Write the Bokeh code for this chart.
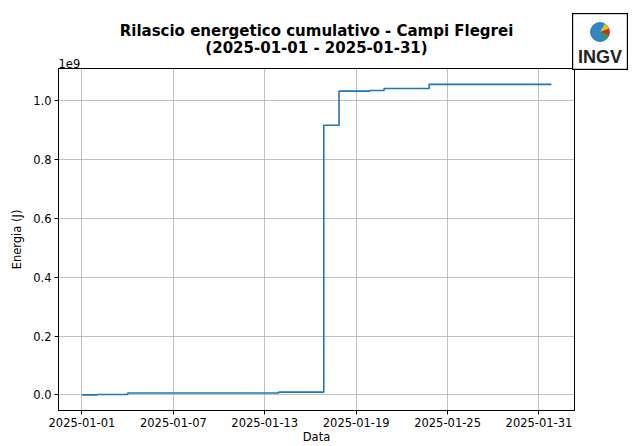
import numpy as np
import pandas as pd
from bokeh.plotting import figure
from bokeh.layouts import row
from bokeh.models import (Range1d, FixedTicker, DatetimeTickFormatter,
                          CustomJSTickFormatter, Title, Div)
from bokeh.embed import file_html
from bokeh.resources import INLINE

# ---- data ----
event_times = ["2025-01-01 00:00", "2025-01-02 00:00", "2025-01-04 00:00",
               "2025-01-13 22:00", "2025-01-16 21:00", "2025-01-17 21:00",
               "2025-01-19 21:00", "2025-01-20 20:00", "2025-01-23 19:00",
               "2025-01-31 19:00"]
cumulative_energy_j = [0.4e6, 1.5e6, 6.5e6, 9.5e6, 915e6, 1031e6,
                       1033e6, 1040e6, 1054e6, 1055e6]
x_tick_labels = ["2025-01-01", "2025-01-07", "2025-01-13",
                 "2025-01-19", "2025-01-25", "2025-01-31"]
y_ticks = [0.0, 0.2e9, 0.4e9, 0.6e9, 0.8e9, 1.0e9]
title_line1 = "Rilascio energetico cumulativo - Campi Flegrei"
title_line2 = "(2025-01-01 - 2025-01-31)"
x_label = "Data"
y_label = "Energia (J)"
y_offset_text = "1e9"
logo_text = "INGV"

FONT = "DejaVu Sans"

t = pd.to_datetime(event_times)
e = np.array(cumulative_energy_j)
span = t.max() - t.min()
x0, x1 = t.min() - span * 0.05, t.max() + span * 0.05
yspan = e.max() - 0.0
y0, y1 = 0.0 - yspan * 0.05, e.max() + yspan * 0.05

epoch = pd.Timestamp("1970-01-01")
tick_ms = [float((pd.Timestamp(s) - epoch) / pd.Timedelta("1ms")) for s in x_tick_labels]

p = figure(width=576, height=446, x_axis_type="datetime",
           output_backend="svg", toolbar_location=None,
           x_range=Range1d(x0, x1), y_range=Range1d(y0, y1),
           min_border_left=58, min_border_right=2,
           min_border_top=68, min_border_bottom=36)
p.title = None

p.step(t, e, mode="after", line_color="#1f77b4", line_width=1.6)

# stacked texts above the frame: offset text, title line 2, title line 1
p.add_layout(Title(text=y_offset_text, align="left", offset=0,
                   text_font=FONT, text_font_size="11.5px",
                   text_font_style="normal", text_color="black", standoff=1), "above")
p.add_layout(Title(text=title_line2, align="center", offset=-8,
                   text_font=FONT, text_font_size="15px", text_line_height=1.0,
                   text_font_style="bold", text_color="black", standoff=0), "above")
p.add_layout(Title(text=title_line1, align="center", offset=-8,
                   text_font=FONT, text_font_size="15px", text_line_height=1.0,
                   text_font_style="bold", text_color="black", standoff=-6), "above")

# axes
p.xaxis.ticker = FixedTicker(ticks=tick_ms)
p.xaxis.formatter = DatetimeTickFormatter(days="%Y-%m-%d", months="%Y-%m-%d",
                                          hours="%Y-%m-%d")
p.yaxis.ticker = FixedTicker(ticks=y_ticks)
p.yaxis.formatter = CustomJSTickFormatter(code="return (tick/1e9).toFixed(1);")
p.xaxis.axis_label = x_label
p.yaxis.axis_label = y_label
for ax in (p.xaxis, p.yaxis):
    ax.axis_label_text_font = FONT
    ax.axis_label_text_font_size = "11.5px"
    ax.axis_label_text_font_style = "normal"
    ax.axis_label_text_color = "black"
    ax.major_label_text_font = FONT
    ax.major_label_text_font_size = "11.5px"
    ax.major_label_text_color = "black"
    ax.axis_line_color = "black"
    ax.major_tick_line_color = "black"
    ax.major_tick_out = 4
    ax.major_tick_in = 0
    ax.minor_tick_line_color = None
p.xaxis.major_label_standoff = 3
p.yaxis.major_label_standoff = 3
p.xaxis.axis_label_standoff = 0
p.yaxis.axis_label_standoff = 6

p.grid.grid_line_color = "#b0b0b0"
p.grid.grid_line_width = 0.8
p.xgrid.ticker = FixedTicker(ticks=tick_ms)
p.ygrid.ticker = FixedTicker(ticks=y_ticks)
p.outline_line_color = "black"
p.outline_line_width = 1
p.background_fill_color = "white"
p.border_fill_color = "white"

# ---- INGV logo (decorative, outside the chart frame) ----
logo_svg = (
    '<svg xmlns="http://www.w3.org/2000/svg" width="56" height="57" '
    'style="display:block">'
    '<rect x="0.6" y="0.6" width="54.8" height="55.8" fill="white" '
    'stroke="black" stroke-width="1.2"/>'
    '<circle cx="28" cy="19" r="9.5" fill="#2f86c8" stroke="#1f6fae" stroke-width="0.8"/>'
    '<path d="M28,19 L32.75,10.77 A9.5,9.5 0 0 1 36.93,15.75 Z" fill="#f2c200"/>'
    '<path d="M28,19 L36.93,15.75 A9.5,9.5 0 0 1 36.93,22.25 Z" fill="#d8262a"/>'
    '<path d="M28,19 L36.93,22.25 A9.5,9.5 0 0 1 32.75,27.23 Z" fill="#3a9a3a"/>'
    '<text x="28" y="50" text-anchor="middle" font-size="18" font-weight="bold" '
    'fill="#222222" font-family="Liberation Sans Narrow, DejaVu Sans Condensed, '
    'DejaVu Sans, sans-serif">' + logo_text + '</text>'
    '</svg>'
)
logo = Div(text=logo_svg, width=56, height=57, margin=(13, 0, 0, -4))

layout = row(p, logo, spacing=0)
open("out.html", "w").write(file_html(layout, INLINE))
